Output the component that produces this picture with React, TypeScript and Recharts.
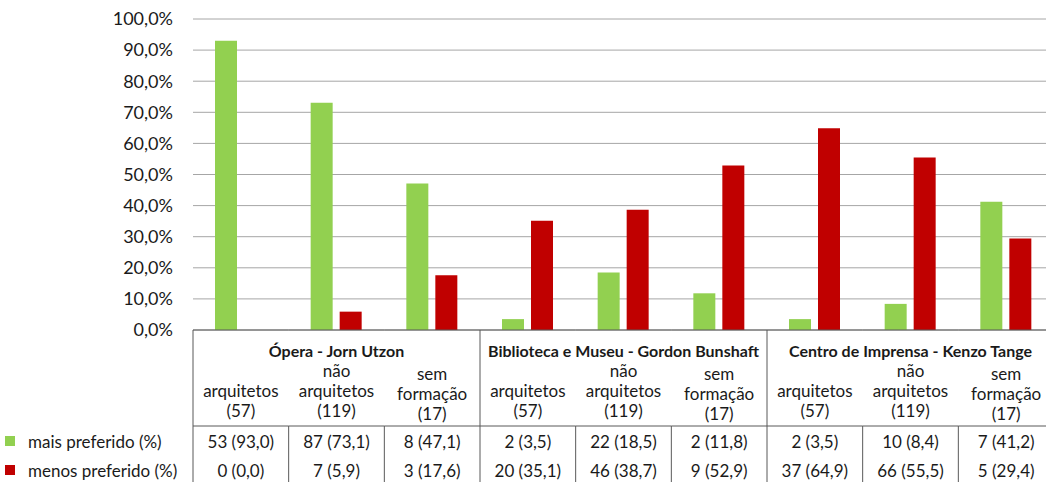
import { BarChart, Bar, XAxis, YAxis, CartesianGrid } from "recharts";

const buildings = [
  "Ópera - Jorn Utzon",
  "Biblioteca e Museu - Gordon Bunshaft",
  "Centro de Imprensa - Kenzo Tange",
];
const groupLabels = [["arquitetos", "(57)"], ["não", "arquitetos", "(119)"], ["sem", "formação", "(17)"]];

const maisPct = [93.0, 73.1, 47.1, 3.5, 18.5, 11.8, 3.5, 8.4, 41.2];
const menosPct = [0.0, 5.9, 17.6, 35.1, 38.7, 52.9, 64.9, 55.5, 29.4];
const maisCount = [53, 87, 8, 2, 22, 2, 2, 10, 7];
const menosCount = [0, 7, 3, 20, 46, 9, 37, 66, 5];

const yTicks = [0, 10, 20, 30, 40, 50, 60, 70, 80, 90, 100];

const GREEN = "#92d050";
const RED = "#c00000";
const LINE = "#595959";
const TEXT = "#1a1a1a";

const W = 1056;
const H = 482;
const LEFT = 193;
const RIGHT = 2;
const TOP = 19;
const TABLE_H = 152;
const BAND = (W - LEFT - RIGHT) / maisPct.length;

const rows = maisPct.map((v, i) => ({
  key: `c${i}`,
  mais: v,
  menos: menosPct[i],
}));

const fmt = (v: number) => v.toFixed(1).replace(".", ",");

// one column of the data table under the plot, drawn per x tick
function TableColumn(props: any) {
  const { x, y, index } = props;
  const left = x - BAND / 2;
  const right = x + BAND / 2;
  const headBottom = y + 96;
  const rowMid = headBottom + 30;
  const bottom = H;
  const sub = index % 3;
  const lines = groupLabels[sub];
  const lastY = sub === 2 ? y + 83 : y + 80;

  return (
    <g fontSize={17} fill={TEXT}>
      <line x1={left} x2={right} y1={y} y2={y} stroke={LINE} />
      <line x1={left} x2={right} y1={headBottom} y2={headBottom} stroke={LINE} />
      {sub === 0 ? (
        <line x1={left} x2={left} y1={y} y2={bottom} stroke={LINE} />
      ) : (
        <line x1={left} x2={left} y1={headBottom} y2={bottom} stroke={LINE} />
      )}
      {sub === 1 && (
        <text
          x={x}
          y={y + 20}
          textAnchor="middle"
          dominantBaseline="central"
          fontWeight="bold"
          fontSize={16}
          fill={TEXT}
        >
          {buildings[Math.floor(index / 3)]}
        </text>
      )}
      {lines.map((t, k) => (
        <text
          key={k}
          x={x}
          y={lastY - (lines.length - 1 - k) * 20}
          textAnchor="middle"
          dominantBaseline="central"
          fill={TEXT}
        >
          {t}
        </text>
      ))}
      <text x={x} y={headBottom + 15} textAnchor="middle" dominantBaseline="central" fill={TEXT}>
        {`${maisCount[index]} (${fmt(maisPct[index])})`}
      </text>
      <text x={x} y={rowMid + 14} textAnchor="middle" dominantBaseline="central" fill={TEXT}>
        {`${menosCount[index]} (${fmt(menosPct[index])})`}
      </text>
      {index === 0 && (
        <g>
          <rect x={5} y={headBottom + 10} width={10} height={10} fill={GREEN} />
          <text x={28} y={headBottom + 15} dominantBaseline="central" fill={TEXT}>
            mais preferido (%)
          </text>
          <rect x={5} y={rowMid + 9} width={10} height={10} fill={RED} />
          <text x={28} y={rowMid + 14} dominantBaseline="central" fill={TEXT}>
            menos preferido (%)
          </text>
        </g>
      )}
    </g>
  );
}

export default function App() {
  return (
    <div
      style={{
        position: "absolute",
        left: 0,
        top: 0,
        width: 1046,
        height: H,
        overflow: "hidden",
        background: "#fff",
        fontFamily: "Lato, sans-serif",
      }}
    >
      <BarChart
        width={W}
        height={H}
        data={rows}
        margin={{ top: TOP, right: RIGHT, left: 0, bottom: 0 }}
        barSize={22}
        barGap={7}
      >
        <CartesianGrid vertical={false} stroke="#a6a6a6" />
        <YAxis
          width={LEFT}
          domain={[0, 100]}
          ticks={yTicks}
          tickFormatter={(v: number) => `${fmt(v)}%`}
          axisLine={false}
          tickLine={false}
          tickSize={0}
          tickMargin={20}
          tick={{ fill: TEXT, fontSize: 18 }}
        />
        <XAxis
          dataKey="key"
          height={TABLE_H}
          interval={0}
          axisLine={false}
          tickLine={false}
          tickSize={0}
          tickMargin={0}
          tick={(p: any) => <TableColumn {...p} />}
        />
        <Bar dataKey="mais" fill={GREEN} isAnimationActive={false} />
        <Bar dataKey="menos" fill={RED} isAnimationActive={false} />
      </BarChart>
    </div>
  );
}
